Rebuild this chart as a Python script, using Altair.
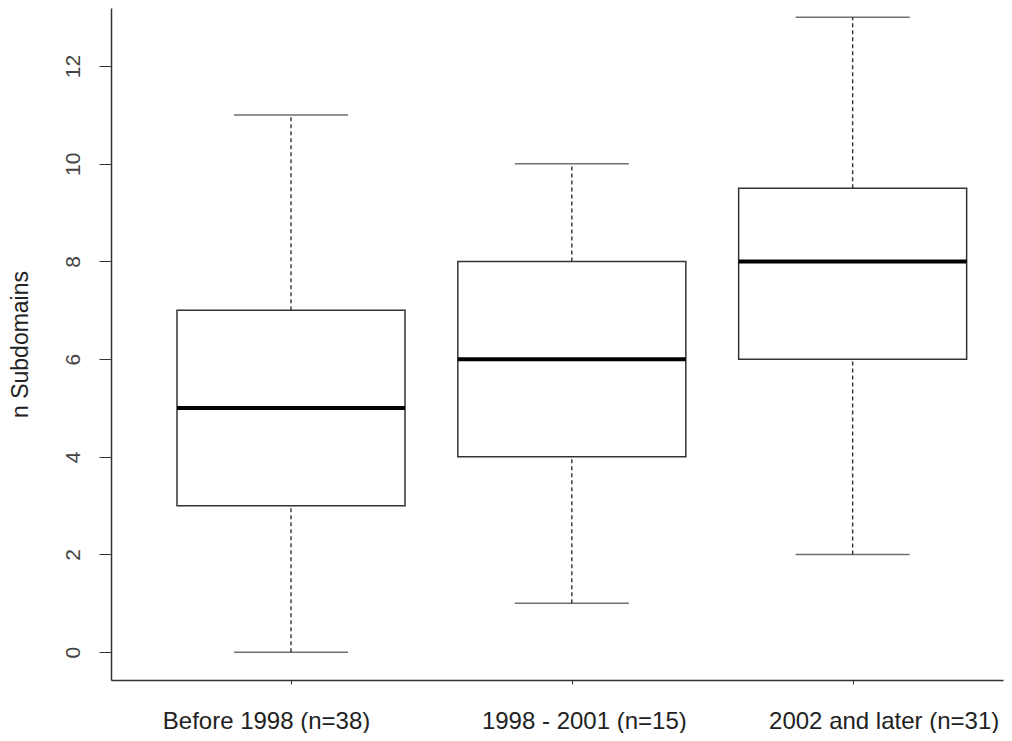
import altair as alt
import pandas as pd

groups = ["Before 1998 (n=38)", "1998 - 2001 (n=15)", "2002 and later (n=31)"]
positions = [1, 2, 3]
mins = [0, 1, 2]
q1s = [3, 4, 6]
medians = [5, 6, 8]
q3s = [7, 8, 9.5]
maxs = [11, 10, 13]

df = pd.DataFrame({"group": groups, "pos": positions, "lo": mins, "q1": q1s,
                   "med": medians, "q3": q3s, "hi": maxs})

label_expr = ("datum.value == 1 ? '%s' : datum.value == 2 ? '%s' : datum.value == 3 ? '%s' : ''"
              % tuple(groups))

FONT = "Liberation Sans"
STROKE = "#333333"

xs = alt.Scale(domain=[0.3768, 3.5176], nice=False, zero=False)
ys = alt.Scale(domain=[-0.57, 13.19], nice=False, zero=False)

x_axis = alt.Axis(values=positions, labelExpr=label_expr, title=None, grid=False,
                  tickSize=4, labelPadding=44, labelBaseline="alphabetic",
                  labelFontSize=24, labelFont=FONT,
                  labelColor="#222222", domainColor=STROKE, tickColor=STROKE,
                  domainWidth=1.5, labelFlush=False, labelLimit=400, labelOverlap=False,
                  labelOffset={"condition": [{"test": "datum.value == 1", "value": -25},
                                             {"test": "datum.value == 3", "value": 31}],
                               "value": 12})
y_axis = alt.Axis(values=[0, 2, 4, 6, 8, 10, 12], title="n Subdomains", grid=False,
                  tickSize=12, labelAngle=270, labelAlign="center", labelBaseline="bottom",
                  labelPadding=16, labelFontSize=21, labelFont=FONT, labelColor="#444444",
                  titleFontSize=23, titleFont=FONT, titleFontWeight="normal",
                  titleColor="#222222", titlePadding=30, domainColor=STROKE,
                  tickColor=STROKE, domainWidth=1.5)

base = alt.Chart(df)

whisk_lo = base.mark_rule(color=STROKE, strokeWidth=1.4, strokeDash=[4, 3]).encode(
    x=alt.X("pos:Q", scale=xs, axis=x_axis), y=alt.Y("lo:Q", scale=ys, axis=y_axis), y2="q1:Q")
whisk_hi = base.mark_rule(color=STROKE, strokeWidth=1.4, strokeDash=[4, 3]).encode(
    x=alt.X("pos:Q", scale=xs), y=alt.Y("q3:Q", scale=ys), y2="hi:Q")
cap_lo = base.mark_tick(color=STROKE, thickness=1.5, size=114, orient="horizontal").encode(
    x=alt.X("pos:Q", scale=xs), y=alt.Y("lo:Q", scale=ys))
cap_hi = base.mark_tick(color=STROKE, thickness=1.5, size=114, orient="horizontal").encode(
    x=alt.X("pos:Q", scale=xs), y=alt.Y("hi:Q", scale=ys))
box = base.mark_bar(size=228, fill="white", stroke=STROKE, strokeWidth=1.5).encode(
    x=alt.X("pos:Q", scale=xs), y=alt.Y("q1:Q", scale=ys), y2="q3:Q")
med = base.mark_tick(color="black", opacity=1, thickness=4, size=228, orient="horizontal").encode(
    x=alt.X("pos:Q", scale=xs), y=alt.Y("med:Q", scale=ys))

chart = alt.layer(whisk_lo, whisk_hi, cap_lo, cap_hi, box, med).properties(
    width=892, height=672,
    background="white",
    autosize=alt.AutoSizeParams(type="none"),
    padding={"left": 103, "top": 0, "right": 1, "bottom": 53},
).configure_view(strokeWidth=0, stroke="transparent")

chart.save("out.html", embed_options={"renderer": "svg", "actions": False})
